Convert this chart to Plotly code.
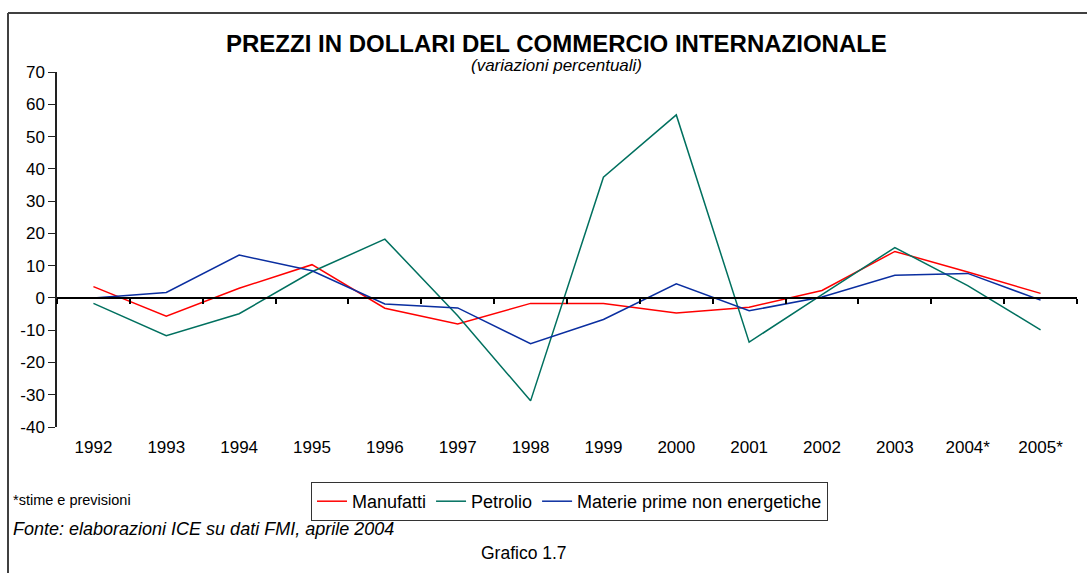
import plotly.graph_objects as go

years = ["1992", "1993", "1994", "1995", "1996", "1997", "1998", "1999",
         "2000", "2001", "2002", "2003", "2004*", "2005*"]
manufatti = [3.5, -5.7, 3.0, 10.3, -3.2, -8.1, -1.7, -1.7, -4.7, -2.9, 2.3, 14.4, 8.0, 1.4]
petrolio = [-1.7, -11.7, -4.9, 8.1, 18.2, -5.5, -31.9, 37.4, 56.7, -13.7, 1.0, 15.6, 3.8, -9.9]
materie = [0.0, 1.7, 13.3, 8.4, -1.9, -3.1, -14.2, -6.7, 4.4, -4.0, 0.3, 7.0, 7.6, -0.7]

y_range = [-40, 70]
y_ticks = list(range(-40, 71, 10))
y_ticktext = [str(v) for v in y_ticks]
idx = list(range(len(years)))

W, H = 1088, 573
L, R, T, B = 57, 11, 72, 146
pw, ph = W - L - R, H - T - B

def px(xp):
    return (xp - L) / pw

def py(yp):
    return (H - B - yp) / ph

fig = go.Figure()
series = [("Manufatti", manufatti, "#ff0000"),
          ("Petrolio", petrolio, "#00705f"),
          ("Materie prime non energetiche", materie, "#0a2ea0")]
for name, vals, col in series:
    fig.add_trace(go.Scatter(x=idx, y=vals, mode="lines", name=name,
                             line=dict(color=col, width=1.5), xaxis="x", yaxis="y"))

# invisible helper so the zero-line category axis is rendered
fig.add_trace(go.Scatter(x=[idx[0], idx[-1]], y=[0, 0], mode="lines", opacity=0,
                         showlegend=False, hoverinfo="skip", xaxis="x2", yaxis="y"))

font_family = "Liberation Sans, Arial, sans-serif"
boundaries = [i - 0.5 for i in range(len(years) + 1)]

fig.update_layout(
    width=W, height=H,
    margin=dict(l=L, r=R, t=T, b=B),
    paper_bgcolor="white", plot_bgcolor="white",
    font=dict(family=font_family, size=17, color="black"),
    xaxis=dict(range=[-0.5, len(years) - 0.5], tickmode="array", tickvals=idx,
               ticktext=years, showline=False, showgrid=False, zeroline=False,
               ticks="outside", ticklen=5, tickcolor="rgba(0,0,0,0)",
               tickfont=dict(size=17)),
    xaxis2=dict(overlaying="x", anchor="free",
                position=(0 - y_range[0]) / (y_range[1] - y_range[0]),
                range=[-0.5, len(years) - 0.5], tickmode="array", tickvals=boundaries,
                showticklabels=False, showline=True, linecolor="black", linewidth=1.5,
                ticks="outside", ticklen=5, tickcolor="black", tickwidth=1.5,
                showgrid=False, zeroline=False),
    yaxis=dict(range=y_range, tickmode="array", tickvals=y_ticks, ticktext=y_ticktext,
               showline=True, linecolor="#222",
               linewidth=1.5, ticks="outside", ticklen=7, tickcolor="#222",
               showgrid=False, zeroline=False, tickfont=dict(size=17)),
    legend=dict(orientation="h", x=px(311), y=py(482), xanchor="left", yanchor="top",
                bordercolor="#333", borderwidth=1, bgcolor="white",
                font=dict(size=18), tracegroupgap=0),
    showlegend=True,
)

fig.add_annotation(text="<b>PREZZI IN DOLLARI DEL COMMERCIO INTERNAZIONALE</b>",
                   xref="paper", yref="paper", x=px(556), y=py(43), showarrow=False,
                   font=dict(size=24), xanchor="center", yanchor="middle")
fig.add_annotation(text="<i>(variazioni percentuali)</i>",
                   xref="paper", yref="paper", x=px(556), y=py(65), showarrow=False,
                   font=dict(size=17), xanchor="center", yanchor="middle")
fig.add_annotation(text="*stime e previsioni", xref="paper", yref="paper",
                   x=px(11), y=py(500), showarrow=False, font=dict(size=14.5),
                   xanchor="left", yanchor="middle")
fig.add_annotation(text="<i>Fonte: elaborazioni ICE su dati FMI, aprile 2004</i>",
                   xref="paper", yref="paper", x=px(11), y=py(529), showarrow=False,
                   font=dict(size=18), xanchor="left", yanchor="middle")
fig.add_annotation(text="Grafico 1.7", xref="paper", yref="paper",
                   x=px(524), y=py(553), showarrow=False, font=dict(size=17.5),
                   xanchor="center", yanchor="middle")

# frame lines (top and left)
fig.add_shape(type="line", xref="paper", yref="paper", x0=px(8), x1=px(1087),
              y0=py(13), y1=py(13), line=dict(color="#404040", width=2))
fig.add_shape(type="line", xref="paper", yref="paper", x0=px(8), x1=px(8),
              y0=py(13), y1=py(573), line=dict(color="#404040", width=2))

fig.write_html("out.html", config={"displayModeBar": False},
               post_script="document.body.style.margin='0';")
